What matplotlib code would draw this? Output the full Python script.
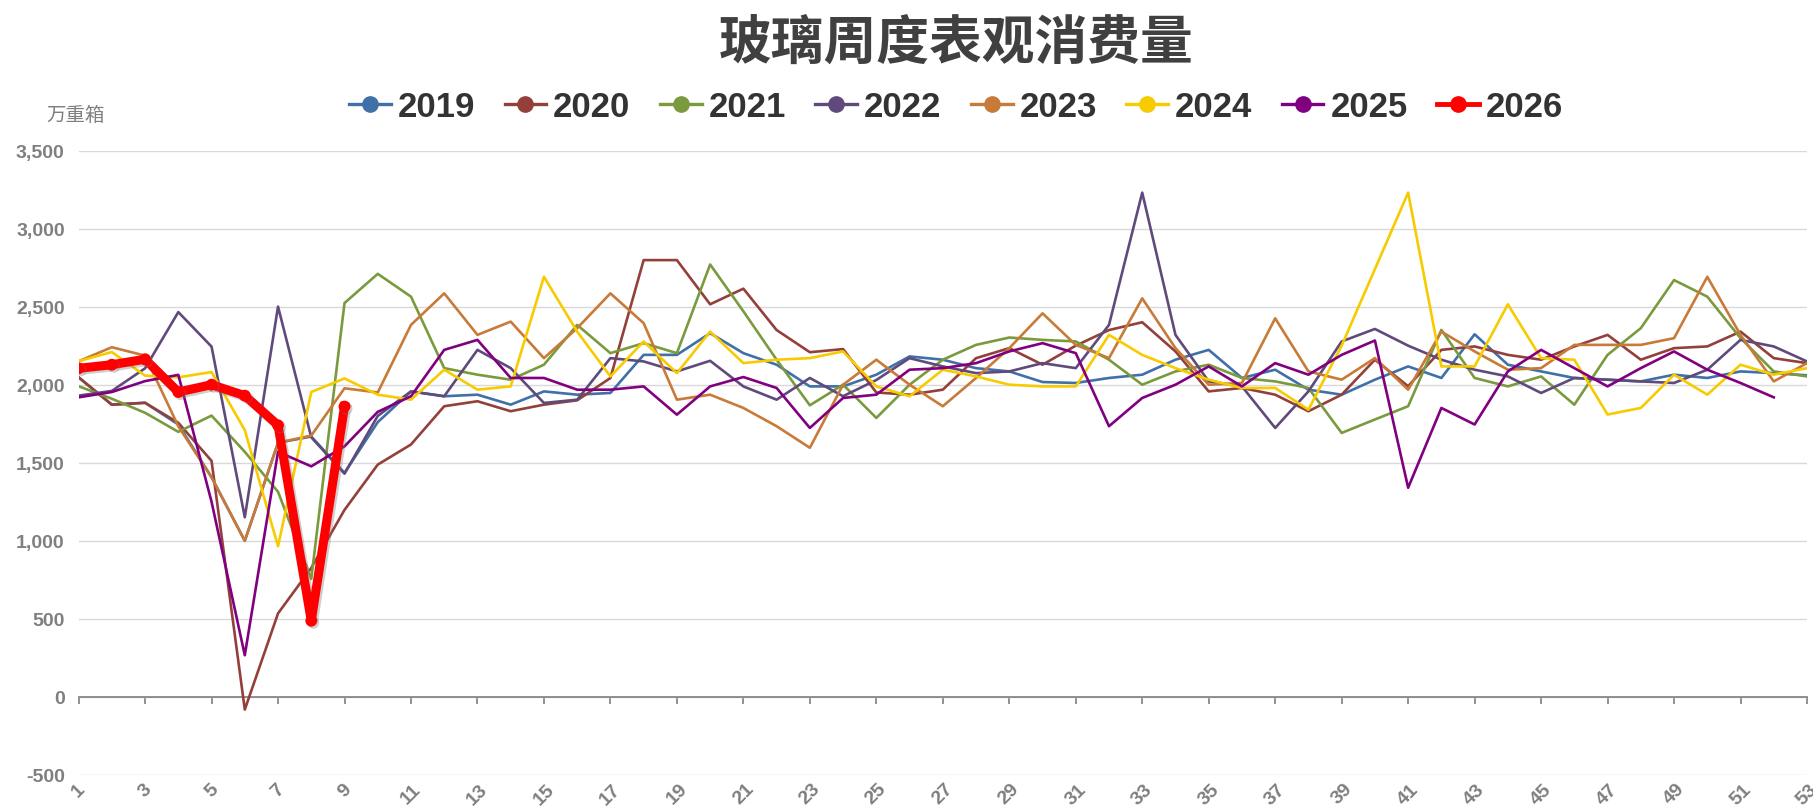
import numpy as np
import matplotlib
matplotlib.use("Agg")
import matplotlib.pyplot as plt
from matplotlib.lines import Line2D
from matplotlib import patheffects as pe
from matplotlib.ticker import FuncFormatter

weeks = np.arange(1, 54)

y2019 = [2047, 1872, 1884, 1745, 1407, 1000, 1628, 1668, 1435, 1760,
         1957, 1926, 1936, 1872, 1957, 1936, 1947, 2191, 2191, 2330,
         2202, 2128, 1989, 1989, 2064, 2181, 2160, 2106, 2085, 2017,
         2011, 2043, 2064, 2160, 2223, 2043, 2096, 1968, 1936, 2032,
         2117, 2043, 2323, 2128, 2085, 2043, 2032, 2021, 2064, 2043,
         2085, 2074, 2060]
y2020 = [2047, 1872, 1884, 1756, 1512, -81, 535, 826, 1198, 1488,
         1617, 1862, 1894, 1830, 1872, 1900, 2043, 2798, 2798, 2515,
         2615, 2350, 2208, 2228, 1950, 1936, 1968, 2170, 2234, 2128,
         2250, 2350, 2400, 2213, 1957, 1979, 1936, 1830, 1936, 2160,
         1990, 2223, 2245, 2191, 2160, 2245, 2319, 2160, 2234, 2245,
         2340, 2170, 2138]
y2021 = [1990, 1910, 1820, 1698, 1802, 1570, 1314, 756, 2523, 2710,
         2564, 2106, 2064, 2032, 2128, 2383, 2202, 2266, 2202, 2770,
         2470, 2160, 1868, 2000, 1787, 2000, 2160, 2255, 2302, 2287,
         2277, 2160, 2000, 2085, 2128, 2043, 2021, 1979, 1691, 1777,
         1862, 2351, 2043, 1989, 2053, 1872, 2191, 2362, 2670, 2564,
         2298, 2085, 2053]
y2022 = [1930, 1960, 2105, 2465, 2244, 1151, 2500, 1663, 1430, 1800,
         1957, 1926, 2223, 2106, 1883, 1904, 2170, 2149, 2085, 2153,
         1989, 1904, 2043, 1926, 2030, 2170, 2117, 2074, 2085, 2138,
         2106, 2383, 3230, 2319, 2021, 1989, 1723, 1957, 2277, 2357,
         2250, 2160, 2096, 2053, 1947, 2043, 2032, 2021, 2011, 2096,
         2287, 2245, 2149]
y2023 = [2150, 2240, 2186, 1733, 1407, 1000, 1628, 1674, 1977, 1950,
         2383, 2585, 2319, 2404, 2170, 2362, 2585, 2394, 1904, 1936,
         1851, 1734, 1596, 2000, 2160, 2000, 1862, 2043, 2234, 2457,
         2255, 2170, 2553, 2234, 2000, 2011, 2425, 2085, 2032, 2170,
         1968, 2340, 2213, 2096, 2106, 2255, 2255, 2255, 2298, 2691,
         2319, 2021, 2138]
y2024 = [2151, 2209, 2058, 2047, 2081, 1709, 965, 1953, 2040, 1936,
         1904, 2096, 1968, 1989, 2691, 2340, 2053, 2277, 2074, 2340,
         2138, 2160, 2170, 2213, 1989, 1926, 2096, 2053, 2000, 1989,
         1989, 2319, 2191, 2106, 2032, 1979, 1979, 1840, 2250, 2740,
         3230, 2117, 2117, 2515, 2170, 2160, 1809, 1851, 2064, 1936,
         2128, 2064, 2106]
y2025 = [1919, 1953, 2023, 2063, 1250, 267, 1570, 1477, 1605, 1826,
         1926, 2223, 2287, 2043, 2043, 1968, 1968, 1989, 1808, 1989,
         2049, 1979, 1723, 1915, 1936, 2096, 2106, 2138, 2213, 2266,
         2202, 1734, 1915, 2000, 2117, 1989, 2138, 2064, 2191, 2283,
         1340, 1851, 1745, 2085, 2223, 2106, 1989, 2106, 2213, 2096,
         2011, 1919]
y2026 = [2105, 2128, 2163, 1953, 2000, 1930, 1740, 488, 1860]

years = ["2019", "2020", "2021", "2022", "2023", "2024", "2025", "2026"]
series = [y2019, y2020, y2021, y2022, y2023, y2024, y2025, y2026]
colors = ["#4070A8", "#94403A", "#7A9A3E", "#604A7B", "#C87A38", "#F7CB00", "#800080", "#FF0000"]

W, H, DPI = 1813, 812, 100
fig = plt.figure(figsize=(W / DPI, H / DPI), dpi=DPI)
ax_l, ax_r = 78.6 / W, 1807 / W
ax_top, ax_bot = 151.5, 776
ax = fig.add_axes([ax_l, 1 - ax_bot / H, ax_r - ax_l, (ax_bot - ax_top) / H])

for yr, vals, c in zip(years, series, colors):
    x = weeks[:len(vals)]
    if yr == "2026":
        ax.plot(x, vals, color=c, lw=6.5, marker="o", ms=7.5, zorder=5,
                solid_joinstyle="round",
                path_effects=[pe.SimpleLineShadow(offset=(1.5, -1.5), shadow_color="#777777", alpha=0.35),
                              pe.Normal()])
    else:
        ax.plot(x, vals, color=c, lw=1.9, zorder=3)

ax.set_xlim(1, 53)
ax.set_ylim(-500, 3500)
ax.set_yticks(np.arange(-500, 3501, 500))
ax.yaxis.set_major_formatter(FuncFormatter(lambda v, p: f"{v:,.0f}"))
ax.set_xticks(np.arange(1, 54, 2))
ax.yaxis.grid(True, color="#d9d9d9", lw=1)
ax.set_axisbelow(True)

for s in ["left", "right", "top"]:
    ax.spines[s].set_visible(False)
ax.spines["bottom"].set_position(("data", 0))
ax.spines["bottom"].set_color("#7f7f7f")
ax.spines["bottom"].set_linewidth(1.2)

# labels sit below the -500 gridline
ax_h = ax_bot - ax_top
pad_px = ax_h * 500 / 4000 - 2
ax.tick_params(axis="x", direction="out", length=5, width=1.2, color="#7f7f7f",
               pad=pad_px * 72 / DPI, labelsize=14, labelcolor="#7f7f7f")
ax.tick_params(axis="y", length=0, pad=10, labelsize=14, labelcolor="#7f7f7f")
for lab in ax.get_xticklabels():
    lab.set_rotation(45)
    lab.set_fontweight("bold")
    lab.set_family("Liberation Sans")
for lab in ax.get_yticklabels():
    lab.set_fontweight("bold")
    lab.set_family("Liberation Sans")

fig.text(956 / W, 1 - 43 / H, "玻璃周度表观消费量", ha="center", va="center",
         fontsize=38, fontweight="bold", color="#404040", family=["Noto Sans CJK SC", "DejaVu Sans"])
fig.text(46 / W, 1 - 115 / H, "万重箱", ha="left", va="center",
         fontsize=14, color="#7f7f7f", family=["Noto Sans CJK SC", "DejaVu Sans"])

handles = [Line2D([], [], color=c, lw=2.4, marker="o", ms=11) for c in colors]
handles[-1].set_linewidth(3.5)
leg = fig.legend(handles, years, loc="center", bbox_to_anchor=(956 / W, 1 - 107.5 / H),
                 ncol=8, frameon=False, handlelength=1.2, handletextpad=0.2, columnspacing=0.85,
                 prop={"family": "Liberation Sans", "weight": "bold", "size": 25})
for t in leg.get_texts():
    t.set_color("#333333")

fig.savefig("out.png", dpi=DPI)
